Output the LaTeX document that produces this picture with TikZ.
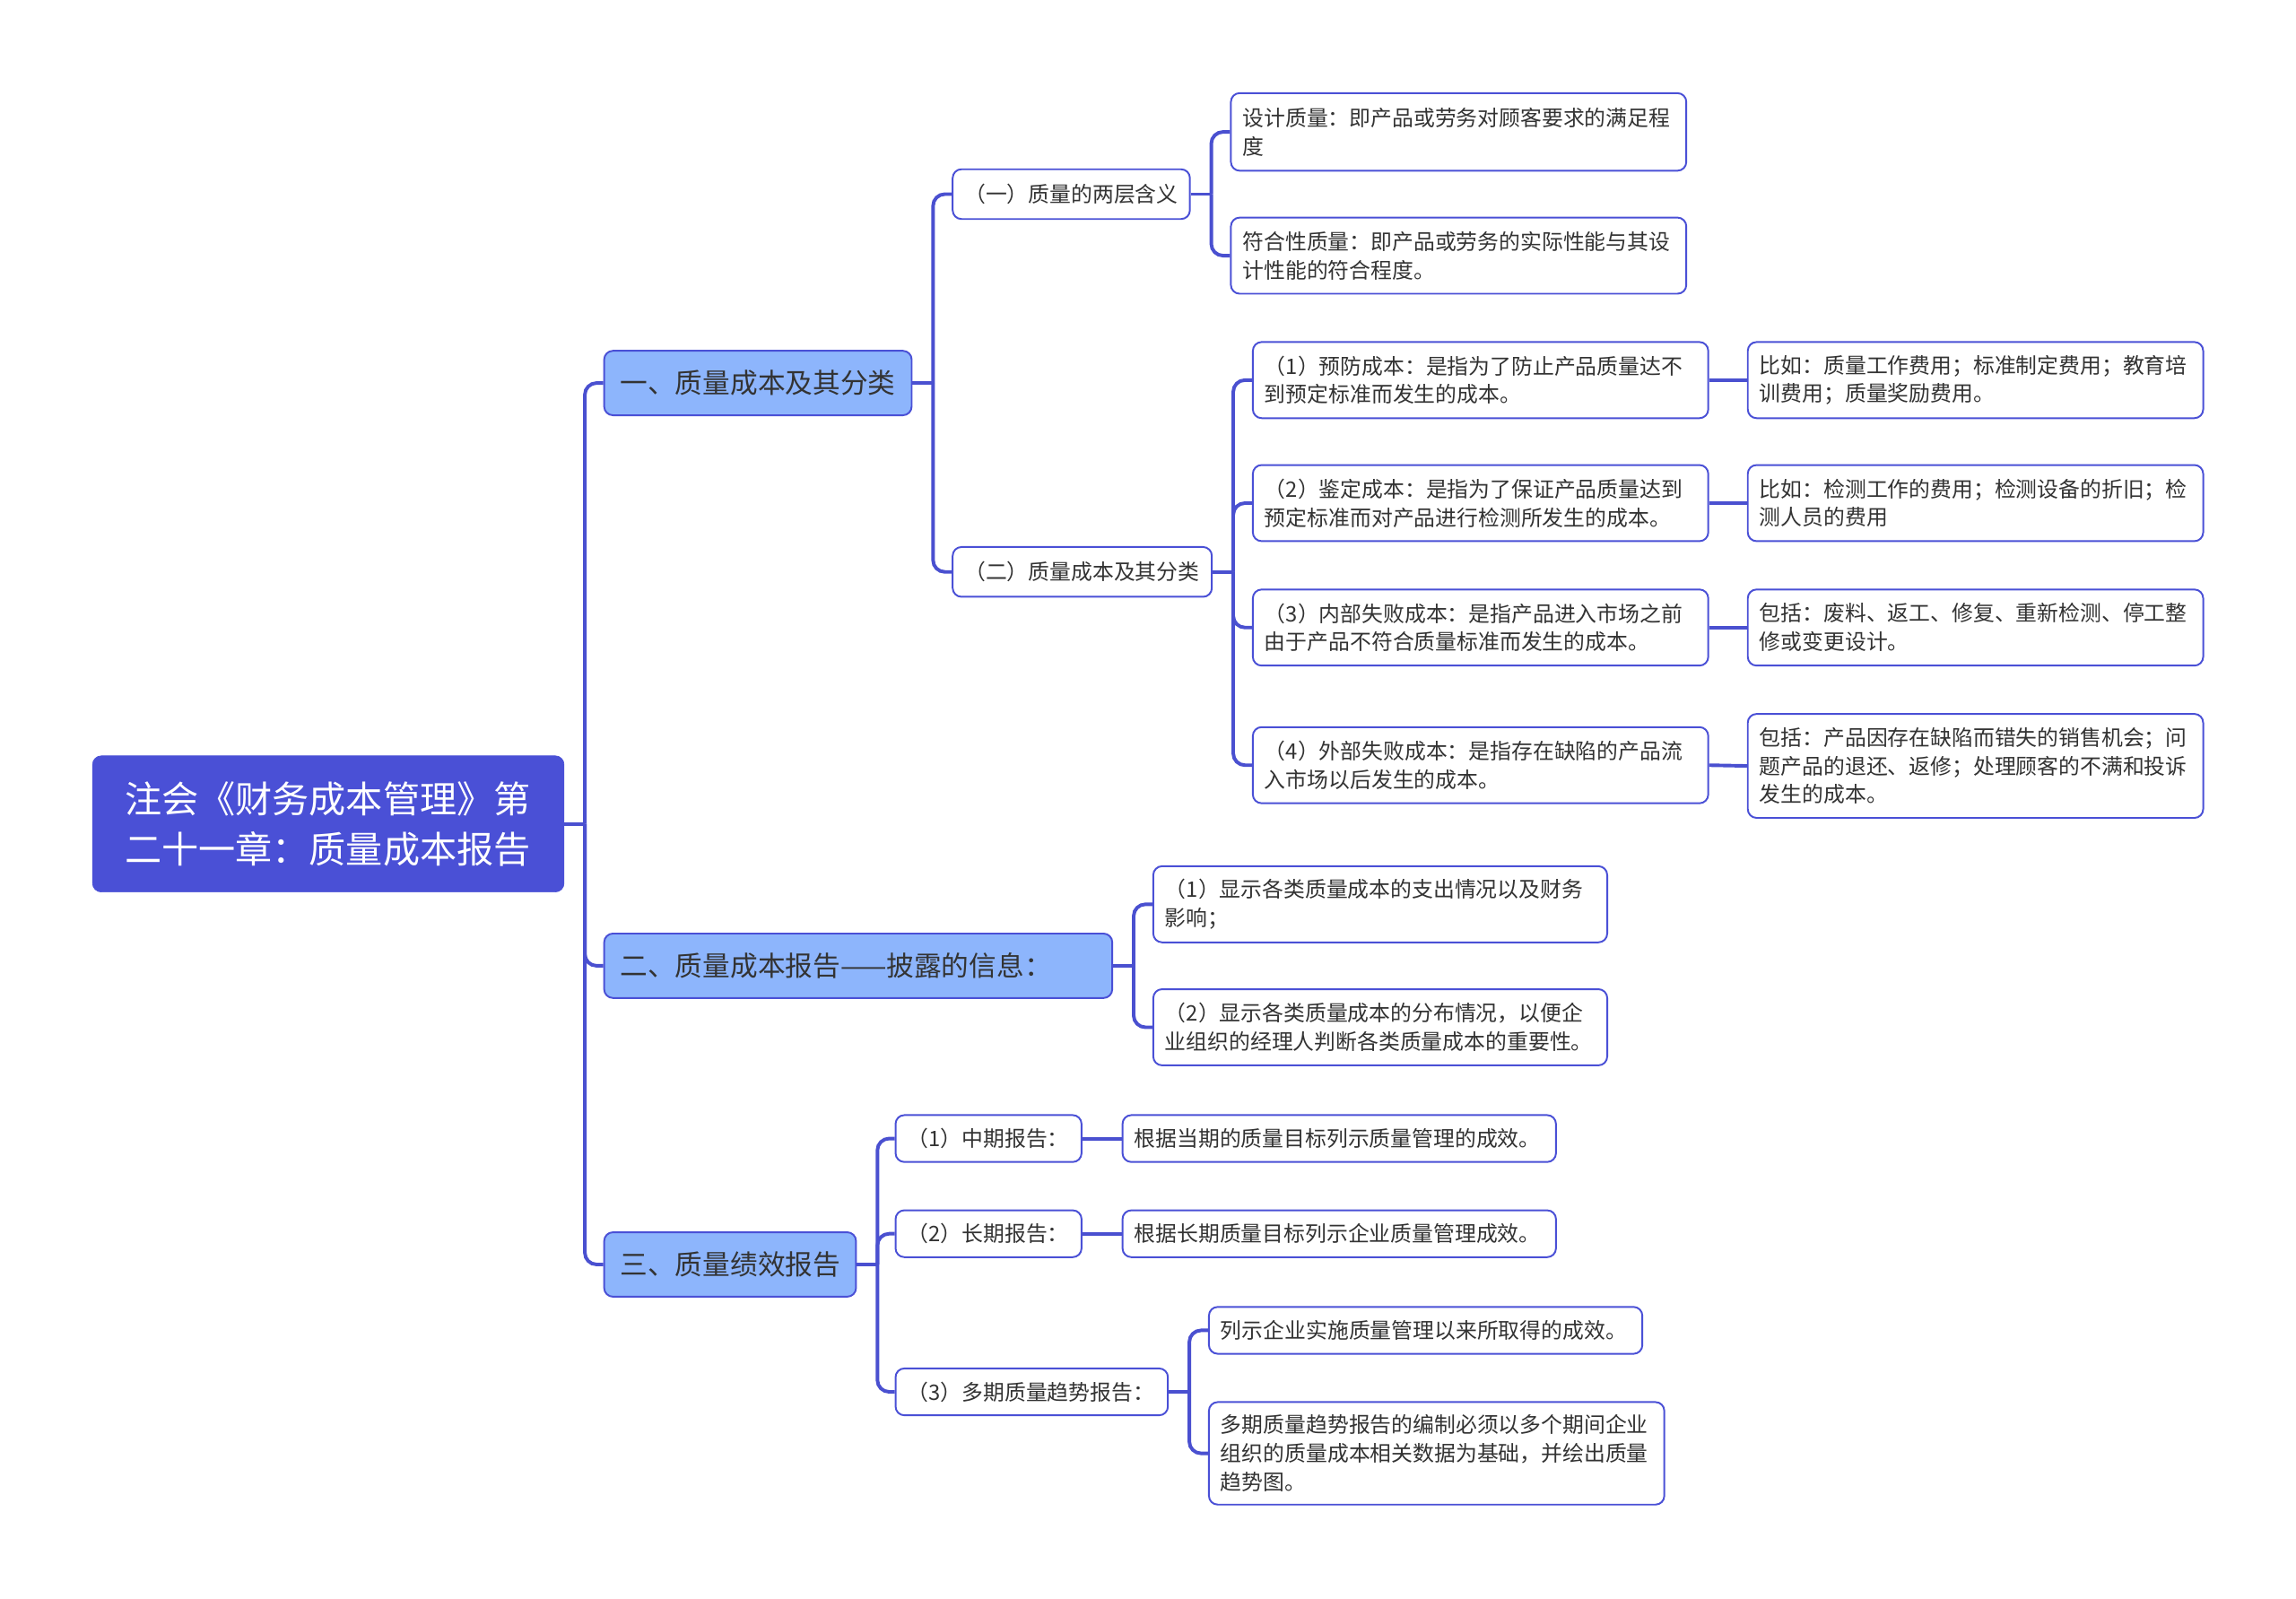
\documentclass[tikz,border=0pt]{standalone}
\usepackage{fontspec}
\setmainfont{Noto Sans CJK SC}
\usetikzlibrary{backgrounds}
\definecolor{rootc}{HTML}{4A50D6}
\definecolor{linec}{HTML}{4A50D0}
\definecolor{l1c}{HTML}{8DB5FC}
\definecolor{txt}{HTML}{333333}
\tikzset{
  conn/.style={draw=linec, line width=2.4pt, rounded corners=8pt},
  rootbox/.style={fill=rootc, draw=rootc, rounded corners=6pt, text=white,
    font=\fontsize{25.2}{34}\selectfont, align=left, anchor=north west,
    inner xsep=22pt, inner ysep=0pt},
  lonebox/.style={fill=l1c, draw=rootc, line width=1.2pt, rounded corners=6pt,
    text=txt, font=\fontsize{18.8}{24}\selectfont, align=left, anchor=north west,
    inner xsep=11pt, inner ysep=0pt},
  box/.style={fill=white, draw=rootc, line width=1.2pt, rounded corners=6pt,
    text=txt, font=\fontsize{14.6}{19.5}\selectfont, align=left, anchor=north west,
    inner xsep=8pt, inner ysep=0pt}
}
\begin{document}
\begin{tikzpicture}[x=1pt,y=-1pt]
\useasboundingbox (0,0) rectangle (1568,1092);

% root
\node[rootbox, text width=278pt, minimum height=93pt] (root) at (63,516)
  {注会《财务成本管理》第\\二十一章：质量成本报告};

% level 1
\node[lonebox, text width=188pt, minimum height=44pt] (A) at (412,239) {一、质量成本及其分类};
\node[lonebox, text width=325pt, minimum height=44pt] (B) at (412,637) {二、质量成本报告——披露的信息：};
\node[lonebox, text width=150pt, minimum height=44pt] (C) at (412,841) {三、质量绩效报告};

% under A
\node[box, text width=146pt, minimum height=34pt] (A1) at (650,115) {（一）质量的两层含义};
\node[box, text width=161pt, minimum height=34pt] (A2) at (650,373) {（二）质量成本及其分类};

\node[box, text width=295pt, minimum height=53pt] (A1a) at (840,63)
  {设计质量：即产品或劳务对顾客要求的满足程\\度};
\node[box, text width=295pt, minimum height=52pt] (A1b) at (840,148)
  {符合性质量：即产品或劳务的实际性能与其设\\计性能的符合程度。};

\node[box, text width=295pt, minimum height=52pt] (A2a) at (855,233)
  {（1）预防成本：是指为了防止产品质量达不\\到预定标准而发生的成本。};
\node[box, text width=295pt, minimum height=52pt] (A2b) at (855,317)
  {（2）鉴定成本：是指为了保证产品质量达到\\预定标准而对产品进行检测所发生的成本。};
\node[box, text width=295pt, minimum height=52pt] (A2c) at (855,402)
  {（3）内部失败成本：是指产品进入市场之前\\由于产品不符合质量标准而发生的成本。};
\node[box, text width=295pt, minimum height=52pt] (A2d) at (855,496)
  {（4）外部失败成本：是指存在缺陷的产品流\\入市场以后发生的成本。};

\node[box, text width=295pt, minimum height=52pt] (A2a1) at (1193,233)
  {比如：质量工作费用；标准制定费用；教育培\\训费用；质量奖励费用。};
\node[box, text width=295pt, minimum height=52pt] (A2b1) at (1193,317)
  {比如：检测工作的费用；检测设备的折旧；检\\测人员的费用};
\node[box, text width=295pt, minimum height=52pt] (A2c1) at (1193,402)
  {包括：废料、返工、修复、重新检测、停工整\\修或变更设计。};
\node[box, text width=295pt, minimum height=71pt] (A2d1) at (1193,487)
  {包括：产品因存在缺陷而错失的销售机会；问\\题产品的退还、返修；处理顾客的不满和投诉\\发生的成本。};

% under B
\node[box, text width=294pt, minimum height=52pt] (B1) at (787,591)
  {（1）显示各类质量成本的支出情况以及财务\\影响；};
\node[box, text width=294pt, minimum height=52pt] (B2) at (787,675)
  {（2）显示各类质量成本的分布情况，以便企\\业组织的经理人判断各类质量成本的重要性。};

% under C
\node[box, text width=111pt, minimum height=32pt] (C1) at (611,761) {（1）中期报告：};
\node[box, text width=111pt, minimum height=32pt] (C2) at (611,826) {（2）长期报告：};
\node[box, text width=170pt, minimum height=32pt] (C3) at (611,934) {（3）多期质量趋势报告：};

\node[box, text width=280pt, minimum height=32pt] (C1a) at (766,761) {根据当期的质量目标列示质量管理的成效。};
\node[box, text width=280pt, minimum height=32pt] (C2a) at (766,826) {根据长期质量目标列示企业质量管理成效。};
\node[box, text width=280pt, minimum height=32pt] (C3a) at (825,892) {列示企业实施质量管理以来所取得的成效。};
\node[box, text width=295pt, minimum height=70pt] (C3b) at (825,957)
  {多期质量趋势报告的编制必须以多个期间企业\\组织的质量成本相关数据为基础，并绘出质量\\趋势图。};

% connectors (behind the boxes)
\begin{scope}[on background layer]
\fill[white] (0,0) rectangle (1568,1092);
\draw[conn] (root.east) -- ++(14,0) coordinate (t0);
\draw[conn] (t0) |- (A.west);
\draw[conn] (t0) |- (B.west);
\draw[conn] (t0) |- (C.west);

\draw[conn] (A.east) -- ++(14,0) coordinate (tA);
\draw[conn] (tA) |- (A1.west);
\draw[conn] (tA) |- (A2.west);

\draw[conn] (A1.east) -- ++(14,0) coordinate (tA1);
\draw[conn] (tA1) |- (A1a.west);
\draw[conn] (tA1) |- (A1b.west);

\draw[conn] (A2.east) -- ++(14,0) coordinate (tA2);
\draw[conn] (tA2) |- (A2a.west);
\draw[conn] (tA2) |- (A2b.west);
\draw[conn] (tA2) |- (A2c.west);
\draw[conn] (tA2) |- (A2d.west);

\draw[conn] (A2a.east) -- (A2a1.west);
\draw[conn] (A2b.east) -- (A2b1.west);
\draw[conn] (A2c.east) -- (A2c1.west);
\draw[conn] (A2d.east) -- (A2d1.west);

\draw[conn] (B.east) -- ++(14,0) coordinate (tB);
\draw[conn] (tB) |- (B1.west);
\draw[conn] (tB) |- (B2.west);

\draw[conn] (C.east) -- ++(14,0) coordinate (tC);
\draw[conn] (tC) |- (C1.west);
\draw[conn] (tC) |- (C2.west);
\draw[conn] (tC) |- (C3.west);

\draw[conn] (C1.east) -- (C1a.west);
\draw[conn] (C2.east) -- (C2a.west);

\draw[conn] (C3.east) -- ++(14,0) coordinate (tC3);
\draw[conn] (tC3) |- (C3a.west);
\draw[conn] (tC3) |- (C3b.west);
\end{scope}
\end{tikzpicture}
\end{document}
